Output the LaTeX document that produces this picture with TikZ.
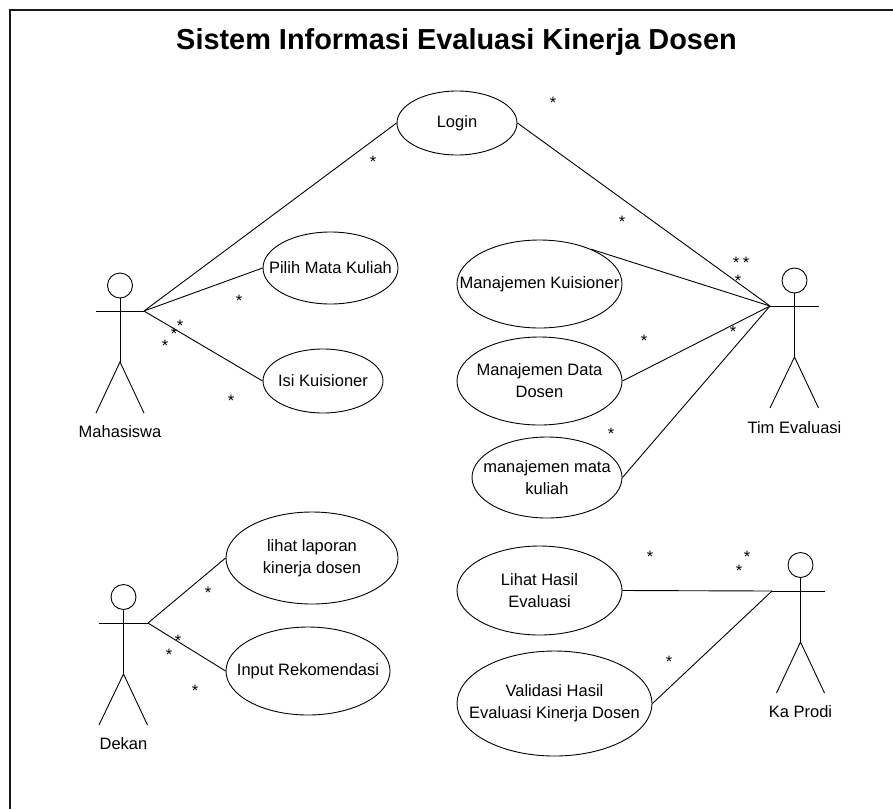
\documentclass[tikz,border=0pt]{standalone}
\usepackage{fontspec}
\setmainfont{Liberation Sans}
\usetikzlibrary{shapes.geometric, positioning}

\tikzset{
  ucase/.style={draw, ellipse, inner sep=0pt, line width=0.9pt},
  uctext/.style={align=center, inner sep=0pt, font=\fontsize{16.5}{22}\selectfont},
  actorname/.style={inner sep=0pt, font=\fontsize{16.5}{22}\selectfont},
  head/.style={draw, circle, inner sep=0pt, minimum size=25, line width=0.9pt},
  limb/.style={line width=0.9pt},
  mult/.style={inner sep=0pt, yshift=-2pt, font=\fontsize{16.5}{22}\selectfont},
  frameline/.style={line width=2pt, black!90}
}

\begin{document}
\begin{tikzpicture}[x=1pt, y=-1pt]
\useasboundingbox (0,0) rectangle (893,809);

% Frame, left and top only
\draw[frameline] (9.8,809) -- (9.8,10.3) -- (893,10.3);

% Title
\node[anchor=base, inner sep=0pt, font=\fontsize{28.9}{32}\selectfont\bfseries] (title) at (456.5,49.5) {Sistem Informasi Evaluasi Kinerja Dosen};

% Use cases
\node[ucase, minimum width=120, minimum height=64, label={[uctext]center:Login}] (login) at (457,123) {};
\node[ucase, minimum width=135, minimum height=72, label={[uctext]center:Pilih Mata Kuliah}] (pilih) at (330.5,268) {};
\node[ucase, minimum width=120, minimum height=64, label={[uctext]center:Isi Kuisioner}] (isi) at (323,381) {};
\node[ucase, minimum width=165, minimum height=88, label={[uctext]center:Manajemen Kuisioner}] (kuis) at (539.5,284) {};
\node[ucase, minimum width=165, minimum height=88, label={[uctext]center:{Manajemen Data\\Dosen}}] (dosen) at (539.5,381) {};
\node[ucase, minimum width=150, minimum height=81, label={[uctext]center:{manajemen mata\\kuliah}}] (matkul) at (547,477.5) {};
\node[ucase, minimum width=172, minimum height=92, label={[uctext]center:{lihat laporan\\kinerja dosen}}] (laporan) at (312,558) {};
\node[ucase, minimum width=164, minimum height=88, label={[uctext]center:Input Rekomendasi}] (input) at (308,671) {};
\node[ucase, minimum width=165, minimum height=89, label={[uctext]center:{Lihat Hasil\\Evaluasi}}] (hasil) at (539.5,590.5) {};
\node[ucase, minimum width=195, minimum height=105, label={[uctext]center:{Validasi Hasil\\Evaluasi Kinerja Dosen}}] (validasi) at (554.5,703.5) {};

% Mahasiswa
\begin{scope}[shift={(120,285.5)}]
\node[head] (mhshead) at (0,0) {};
\coordinate (mhsleft) at (-24,25.5);
\coordinate (mhsright) at (24,25.5);
\coordinate (mhship) at (0,76.5);
\draw[limb] (mhshead) -- (mhship);
\draw[limb] (mhsleft) -- (mhsright);
\draw[limb] (-24,127.5) -- (mhship) -- (24,127.5);
\node[actorname] (mhsname) at (0,146.5) {Mahasiswa};
\end{scope}

% Tim Evaluasi
\begin{scope}[shift={(794.5,280.5)}]
\node[head] (timhead) at (0,0) {};
\coordinate (timleft) at (-24.5,25.5);
\coordinate (timright) at (24.5,25.5);
\coordinate (timhip) at (0,76.5);
\draw[limb] (timhead) -- (timhip);
\draw[limb] (timleft) -- (timright);
\draw[limb] (-24.5,127.5) -- (timhip) -- (24,127.5);
\node[actorname] (timname) at (0,147.5) {Tim Evaluasi};
\end{scope}

% Dekan
\begin{scope}[shift={(123.5,597)}]
\node[head] (dknhead) at (0,0) {};
\coordinate (dknleft) at (-24.5,26);
\coordinate (dknright) at (24.5,26);
\coordinate (dknhip) at (0,77);
\draw[limb] (dknhead) -- (dknhip);
\draw[limb] (dknleft) -- (dknright);
\draw[limb] (-24.5,128) -- (dknhip) -- (24,128);
\node[actorname] (dknname) at (0,147) {Dekan};
\end{scope}

% Ka Prodi
\begin{scope}[shift={(800.5,565)}]
\node[head] (kphead) at (0,0) {};
\coordinate (kpleft) at (-28.5,26);
\coordinate (kpright) at (24,26);
\coordinate (kphip) at (0,77);
\draw[limb] (kphead) -- (kphip);
\draw[limb] (kpleft) -- (kpright);
\draw[limb] (-24,128) -- (kphip) -- (24,128);
\node[actorname] (kpname) at (0,147) {Ka Prodi};
\end{scope}

% Associations
\draw[limb] (mhsright) -- (login.west);
\draw[limb] (mhsright) -- (pilih.west);
\draw[limb] (mhsright) -- (isi.west);
\draw[limb] (timleft) -- (login.east);
\draw[limb] (timleft) -- (kuis.34);
\draw[limb] (timleft) -- (dosen.east);
\draw[limb] (timleft) -- (matkul.east);
\draw[limb] (dknright) -- (laporan.west);
\draw[limb] (dknright) -- (input.west);
\draw[limb] (kpleft) -- (hasil.east);
\draw[limb] (kpleft) -- (validasi.east);

% Multiplicities
\node[mult] (m1) at (373,160) {*};
\node[mult] (m2) at (239,299) {*};
\node[mult] (m3) at (180,324) {*};
\node[mult] (m4) at (174,332) {*};
\node[mult] (m5) at (165,344) {*};
\node[mult] (m6) at (231,399) {*};
\node[mult] (t1) at (553,101) {*};
\node[mult] (t2) at (622,220) {*};
\node[mult] (t3) at (736,261) {*};
\node[mult] (t4) at (746,261) {*};
\node[mult] (t5) at (738,279) {*};
\node[mult] (t6) at (733,330) {*};
\node[mult] (t7) at (644,339) {*};
\node[mult] (t8) at (611,432) {*};
\node[mult] (d1) at (208,591) {*};
\node[mult] (d2) at (178,639) {*};
\node[mult] (d3) at (169,653) {*};
\node[mult] (d4) at (195,689) {*};
\node[mult] (k1) at (650,555) {*};
\node[mult] (k2) at (747,555) {*};
\node[mult] (k3) at (739,569) {*};
\node[mult] (k4) at (669,660) {*};
\end{tikzpicture}
\end{document}
